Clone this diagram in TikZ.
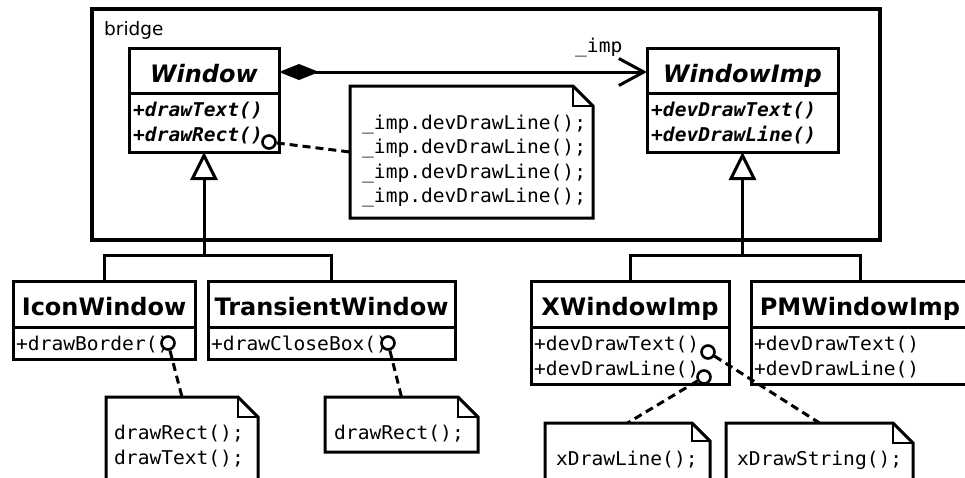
\documentclass[tikz,border=0pt]{standalone}
\usepackage{fontspec}
\setmainfont{DejaVu Sans}
\newfontfamily\monof[FakeStretch=1.03]{DejaVu Sans Mono}
\usetikzlibrary{arrows.meta,calc}
\newcommand{\drawnote}[2]{%
  \draw[line width=3pt, fill=white, line join=miter] (#1.north west) -- ($(#1.north east)+(-#2,0)$) -- ($(#1.north east)+(0,#2)$) -- (#1.south east) -- (#1.south west) -- cycle;
  \draw[line width=1.2pt] ($(#1.north east)+(-#2,0)$) -- ($(#1.north east)+(-#2,#2)$) -- ($(#1.north east)+(0,#2)$);}
\begin{document}
\begin{tikzpicture}[x=1pt,y=-1pt,
  box/.style={draw, line width=3pt, inner sep=0pt, outer sep=0pt, anchor=north west, fill=white},
  frame/.style={draw, line width=3.2pt, inner sep=0pt, outer sep=0pt, anchor=north west},
  notef/.style={inner sep=0pt, outer sep=0pt, anchor=north west},
  cname/.style={anchor=base, inner sep=0pt, font=\bfseries\fontsize{24}{28}\selectfont},
  aname/.style={anchor=base, inner sep=0pt, font=\bfseries\itshape\fontsize{24}{28}\selectfont},
  meth/.style={anchor=base west, inner sep=0pt, font=\monof\fontsize{19}{23}\selectfont},
  ameth/.style={anchor=base west, inner sep=0pt, font=\monof\bfseries\itshape\fontsize{19}{23}\selectfont},
  port/.style={circle, draw, fill=white, line width=2.6pt, minimum size=13pt, inner sep=0pt},
  dep/.style={line width=3pt, dash pattern=on 8pt off 5pt},
  link/.style={line width=3pt},
  divider/.style={line width=3pt}]
\useasboundingbox (0,0) rectangle (965,477);
\clip (0,0) rectangle (965,477);

% bridge frame
\node[frame, minimum width=788pt, minimum height=231pt] (bridge) at (92,9) {};
\node[anchor=base west, inner sep=0pt, font=\fontsize{18.5}{22}\selectfont] (bridgelbl) at (104,35) {bridge};

% Window
\node[box, minimum width=150pt, minimum height=104pt] (window) at (129,48) {};
\draw[divider] ($(window.north west)+(0,45)$) -- ($(window.north east)+(0,45)$);
\node[aname] (windowname) at ($(window.north)+(0,34)$) {Window};
\node[ameth] (wm1) at ($(window.north west)+(4,68)$) {+drawText()};
\node[ameth] (wm2) at ($(window.north west)+(4,93)$) {+drawRect()};

% WindowImp
\node[box, minimum width=191pt, minimum height=104pt] (windowimp) at (647,48) {};
\draw[divider] ($(windowimp.north west)+(0,45)$) -- ($(windowimp.north east)+(0,45)$);
\node[aname] (windowimpname) at ($(windowimp.north)+(0,34)$) {WindowImp};
\node[ameth] (wim1) at ($(windowimp.north west)+(4,68)$) {+devDrawText()};
\node[ameth] (wim2) at ($(windowimp.north west)+(4,93)$) {+devDrawLine()};

% IconWindow
\node[box, minimum width=182pt, minimum height=78pt] (iconwin) at (13,281) {};
\draw[divider] ($(iconwin.north west)+(0,46)$) -- ($(iconwin.north east)+(0,46)$);
\node[cname] (iconwinname) at ($(iconwin.north)+(0,34.5)$) {IconWindow};
\node[meth] (iwm1) at ($(iconwin.north west)+(3,69)$) {+drawBorder()};

% TransientWindow
\node[box, minimum width=247pt, minimum height=78pt] (transwin) at (208,281) {};
\draw[divider] ($(transwin.north west)+(0,46)$) -- ($(transwin.north east)+(0,46)$);
\node[cname] (transwinname) at ($(transwin.north)+(0,34.5)$) {TransientWindow};
\node[meth] (twm1) at ($(transwin.north west)+(3,69)$) {+drawCloseBox()};

% XWindowImp
\node[box, minimum width=198pt, minimum height=103pt] (xwin) at (531,281) {};
\draw[divider] ($(xwin.north west)+(0,46)$) -- ($(xwin.north east)+(0,46)$);
\node[cname] (xwinname) at ($(xwin.north)+(0,34.5)$) {XWindowImp};
\node[meth] (xwm1) at ($(xwin.north west)+(3,69)$) {+devDrawText()};
\node[meth] (xwm2) at ($(xwin.north west)+(3,94)$) {+devDrawLine()};

% PMWindowImp
\node[box, minimum width=218pt, minimum height=103pt] (pmwin) at (751,281) {};
\draw[divider] ($(pmwin.north west)+(0,46)$) -- ($(pmwin.north east)+(0,46)$);
\node[cname] (pmwinname) at ($(pmwin.north)+(0,34.5)$) {PMWindowImp};
\node[meth] (pwm1) at ($(pmwin.north west)+(3,69)$) {+devDrawText()};
\node[meth] (pwm2) at ($(pmwin.north west)+(3,94)$) {+devDrawLine()};

% composition
\draw[link, {Diamond[length=40pt,width=16pt]}-{Straight Barb[length=25pt,width=27pt]}]
  ($(window.north east)+(0,24)$) -- ($(windowimp.north west)+(0,24)$);
\node[meth] (implbl) at (575,52) {\_imp};

% generalizations
\coordinate (jl) at (204,255);
\coordinate (jr) at (742.5,255);
\draw[link] (iconwin.north) |- (jl) -| (transwin.north);
\draw[link, -{Triangle[length=28pt,width=27pt,fill=white]}] (jl) -- (window.south);
\draw[link] (xwin.north) |- (jr) -| (pmwin.north);
\draw[link, -{Triangle[length=28pt,width=27pt,fill=white]}] (jr) -- (windowimp.south);

% note frames (invisible nodes for naming)
\node[notef, minimum width=243pt, minimum height=132pt] (note1) at (350,86) {};
\node[notef, minimum width=152pt, minimum height=120pt] (notea) at (106,397) {};
\node[notef, minimum width=153pt, minimum height=55pt] (noteb) at (325,397) {};
\node[notef, minimum width=165pt, minimum height=100pt] (notec) at (545,423) {};
\node[notef, minimum width=187pt, minimum height=100pt] (noted) at (726,423) {};

% ports
\node[port] (c1) at (269,142) {};
\node[port] (c2) at (168,343) {};
\node[port] (c3) at (388,343) {};
\node[port] (c4) at (708,352) {};
\node[port] (c5) at (704,377) {};

% dependency lines
\draw[dep] (c1) -- (note1.west);
\draw[dep] (c2) -- (notea.north);
\draw[dep] (c3) -- (noteb.north);
\draw[dep] (c5) -- (notec.north);
\draw[dep] (c4) -- (noted.north);

% notes
\drawnote{note1}{20}
\drawnote{notea}{20}
\drawnote{noteb}{20}
\drawnote{notec}{18}
\drawnote{noted}{20}

\node[meth] (n1l1) at (362,129) {\_imp.devDrawLine();};
\node[meth] (n1l2) at (362,153.5) {\_imp.devDrawLine();};
\node[meth] (n1l3) at (362,178) {\_imp.devDrawLine();};
\node[meth] (n1l4) at (362,202.5) {\_imp.devDrawLine();};
\node[meth] (nal1) at (114,439) {drawRect();};
\node[meth] (nal2) at (114,464) {drawText();};
\node[meth] (nbl1) at (334,439) {drawRect();};
\node[meth] (ncl1) at (556,465) {xDrawLine();};
\node[meth] (ndl1) at (737,465) {xDrawString();};
\end{tikzpicture}
\end{document}
